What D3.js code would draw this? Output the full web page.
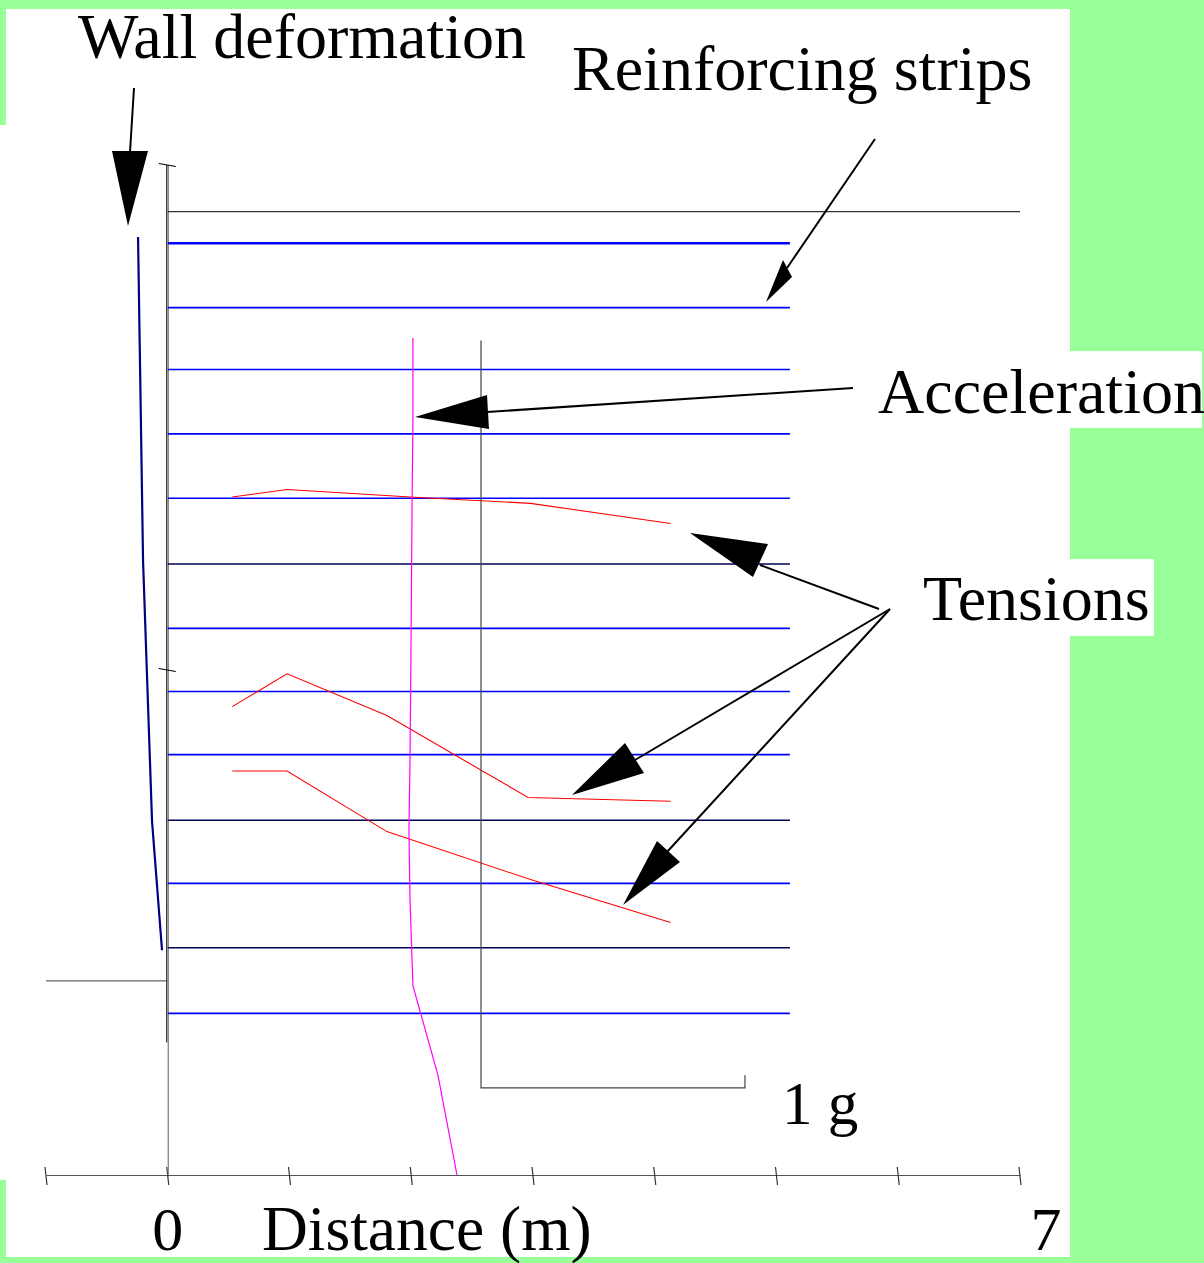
<!DOCTYPE html>
<html><head><meta charset="utf-8">
<script src="https://cdn.jsdelivr.net/npm/d3@7"></script>
<style>html,body{margin:0;padding:0;background:#99ff99;}svg{display:block;}text{font-family:"Liberation Serif","Times New Roman",serif;fill:#000;}</style>
</head><body>
<script>
// ---- data (metres / g) ----
const xTicks = [-1, 0, 1, 2, 3, 4, 5, 6, 7];
const xTickLabels = [{v: 0, t: "0"}, {v: 7, t: "7"}];
const yTicks = [4, 8];
const stripElev = [7.38, 6.87, 6.38, 5.87, 5.36, 4.84, 4.33, 3.83, 3.33, 2.81, 2.31, 1.80, 1.28];
const stripLength = 5.11;
const surfaceElev = 7.63;
const groundElev = 1.537;
const wallBottomElev = 1.05;
const wallDefX = [-0.244, -0.203, -0.129, -0.047];
const wallDefElev = [7.43, 4.87, 2.80, 1.78];
const tensionX1 = [0.53, 0.98, 1.99, 2.98, 4.13];
const tensionElev1 = [5.37, 5.43, 5.37, 5.32, 5.16];
const tensionX2 = [0.53, 0.98, 1.80, 2.96, 4.13];
const tensionElev2 = [3.71, 3.97, 3.64, 2.99, 2.96];
const tensionX3 = [0.53, 0.98, 1.80, 2.98, 4.13];
const tensionElev3 = [3.20, 3.20, 2.72, 2.34, 2.00];
const accelZeroX = 2.573;      // reference line position (m)
const accelOneG = 2.168;       // length of 1 g on the distance axis (m)
const accelRefTop = 6.61, accelRefBottom = 0.69;
const accelElev = [6.63, 5.98, 5.35, 4.24, 3.29, 2.73, 2.18, 1.50, 0.79, 0.0];
const accelG = [-0.258, -0.258, -0.261, -0.265, -0.269, -0.273, -0.269, -0.258, -0.163, -0.091];

const W = 1204, H = 1263;
const svg = d3.select("body").append("svg").attr("width", W).attr("height", H);

// backgrounds
const bg = [[6, 9, 1064, 1248], [0, 125, 8, 1055], [1060, 351, 142, 77], [1060, 559, 94, 77]];
svg.selectAll("rect.bg").data(bg).join("rect").attr("class", "bg")
  .attr("x", d => d[0]).attr("y", d => d[1]).attr("width", d => d[2]).attr("height", d => d[3])
  .attr("fill", "#fff");

const x = d3.scaleLinear().domain([-1, 7]).range([46, 1020]);
const y = d3.scaleLinear().domain([0, 8]).range([1175, 165]);
const g2 = d3.scaleLinear().domain([0, 1]).range([x(accelZeroX), x(accelZeroX + accelOneG)]);

// x axis
const xAxis = d3.axisBottom(x).tickValues(xTicks).tickSize(0).tickFormat("");
const ax = svg.append("g").attr("transform", `translate(0,${y(0)})`).call(xAxis);
ax.select(".domain").attr("stroke", "#555").attr("stroke-width", 1.2);
svg.selectAll("line.xt").data(xTicks).join("line").attr("class", "xt")
  .attr("x1", d => x(d) - 1).attr("x2", d => x(d) + 1)
  .attr("y1", y(0) - 8).attr("y2", y(0) + 10).attr("stroke", "#333").attr("stroke-width", 1.2);
svg.selectAll("text.xl").data(xTickLabels).join("text").attr("class", "xl")
  .attr("x", d => x(d.v) + (d.v === 7 ? 26 : 0)).attr("y", 1250)
  .attr("text-anchor", "middle").attr("font-size", 62).text(d => d.t);
svg.append("text").attr("x", 262).attr("y", 1250).attr("font-size", 63.5).text("Distance (m)");

// y axis (grey) + ticks
svg.append("line").attr("x1", x(0) + 0.5).attr("x2", x(0) + 0.5).attr("y1", y(8)).attr("y2", y(0))
  .attr("stroke", "#777").attr("stroke-width", 1.2);
svg.selectAll("line.yt").data(yTicks).join("line").attr("class", "yt")
  .attr("x1", x(0) - 9).attr("x2", x(0) + 8).attr("y1", d => y(d) - 1.5).attr("y2", d => y(d) + 1.5)
  .attr("stroke", "#000").attr("stroke-width", 1.2);
// wall face
svg.append("line").attr("x1", x(0) - 1).attr("x2", x(0) - 1).attr("y1", y(8)).attr("y2", y(wallBottomElev))
  .attr("stroke", "#000").attr("stroke-width", 1);

// surface & ground
svg.append("line").attr("x1", x(0)).attr("x2", x(7)).attr("y1", y(surfaceElev)).attr("y2", y(surfaceElev))
  .attr("stroke", "#000").attr("stroke-width", 1);
svg.append("line").attr("x1", x(-1)).attr("x2", x(0)).attr("y1", y(groundElev)).attr("y2", y(groundElev))
  .attr("stroke", "#666").attr("stroke-width", 1.3);

// strips
svg.selectAll("line.strip").data(stripElev).join("line").attr("class", "strip")
  .attr("x1", x(0)).attr("x2", x(stripLength)).attr("y1", d => y(d)).attr("y2", d => y(d))
  .attr("stroke", (d, i) => (i === 5 || i === 9 || i === 11) ? "#000050" : "#0000ff")
  .attr("stroke-width", (d, i) => i === 0 ? 2.4 : 1.6);

const line = d3.line();
// wall deformation
svg.append("path").attr("d", line(wallDefX.map((v, i) => [x(v), y(wallDefElev[i])])))
  .attr("fill", "none").attr("stroke", "#000080").attr("stroke-width", 2.2);

// tensions
[[tensionX1, tensionElev1], [tensionX2, tensionElev2], [tensionX3, tensionElev3]].forEach(([xs, es]) => {
  svg.append("path").attr("d", line(xs.map((v, i) => [x(v), y(es[i])])))
    .attr("fill", "none").attr("stroke", "#ff0000").attr("stroke-width", 1.1);
});

// acceleration reference & scale
svg.append("path").attr("d", line([[g2(0), y(accelRefTop)], [g2(0), y(accelRefBottom)], [g2(1), y(accelRefBottom)], [g2(1), y(accelRefBottom + 0.1)]]))
  .attr("fill", "none").attr("stroke", "#444").attr("stroke-width", 1.2);
svg.append("path").attr("d", line(accelG.map((v, i) => [g2(v), y(accelElev[i])])))
  .attr("fill", "none").attr("stroke", "#ff00ff").attr("stroke-width", 1.2);
svg.append("text").attr("x", 782).attr("y", 1124).attr("font-size", 61).text("1 g");

// labels
const labels = [["Wall deformation", 78, 58], ["Reinforcing strips", 572, 90], ["Acceleration", 878, 413], ["Tensions", 923, 620]];
svg.selectAll("text.lab").data(labels).join("text").attr("class", "lab")
  .attr("x", d => d[1]).attr("y", d => d[2]).attr("font-size", 64).text(d => d[0]);

// annotation arrows
const shafts = [[[134, 88], [130, 152]], [[875, 139], [787, 268]], [[853, 388], [487, 412]],
  [[879, 609], [760, 565]], [[890, 609], [635, 760]], [[890, 609], [667, 852]]];
svg.selectAll("path.shaft").data(shafts).join("path").attr("class", "shaft")
  .attr("d", d => line(d)).attr("stroke", "#000").attr("stroke-width", 2).attr("fill", "none");
const heads = [[[112, 151], [148, 151], [128, 226]], [[783, 260], [792, 277], [766, 302]],
  [[487, 395], [489, 429], [415, 417]], [[768, 544], [753, 577], [690, 533]],
  [[625, 743], [644, 773], [572, 795]], [[657, 841], [680, 862], [623, 905]]];
svg.selectAll("path.head").data(heads).join("path").attr("class", "head")
  .attr("d", d => line(d) + "Z").attr("fill", "#000");
</script>
</body></html>
